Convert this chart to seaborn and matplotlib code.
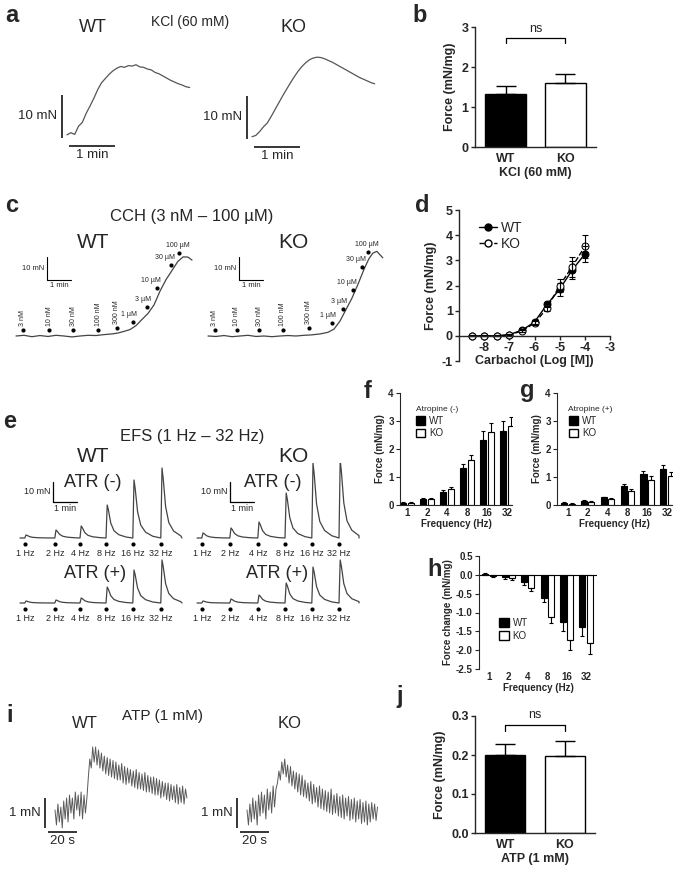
import numpy as np
import pandas as pd
import matplotlib
matplotlib.use('Agg')
import matplotlib.pyplot as plt
from matplotlib.patches import Patch
from matplotlib.lines import Line2D
import seaborn as sns

sns.set_style('ticks')
plt.rcParams['font.family'] = ['Liberation Sans', 'DejaVu Sans']
plt.rcParams['axes.unicode_minus'] = False

W, H = 675, 876

# ---------------- data ----------------
genotypes = ['WT', 'KO']
kcl_force = [1.33, 1.59]
kcl_sem = [0.20, 0.23]
atp_force = [0.200, 0.197]
atp_sem = [0.028, 0.040]

# KCl traces (time s every 5 s, force mN)
kcl_wt_trace = [0.5, 1.0, 0.6, 2.5, 3.4, 5.5, 7.2, 9.0, 11.0, 12.6, 13.6, 14.6, 15.4, 16.0, 16.4, 16.2, 16.6,
                16.5, 16.8, 16.3, 16.2, 15.8, 15.6, 15.0, 14.7, 14.2, 13.7, 13.2, 12.8, 12.4, 12.1, 11.7, 11.5]
kcl_ko_trace = [0.3, 0.6, 1.5, 2.6, 3.5, 5.0, 6.6, 8.2, 9.8, 11.3, 12.8, 14.2, 15.5, 16.6, 17.5, 18.2, 18.6,
                18.8, 18.7, 18.4, 18.0, 17.6, 17.1, 16.6, 16.1, 15.6, 15.1, 14.6, 14.1, 13.7, 13.3, 12.9, 12.6]

# carbachol cumulative traces
cch_doses = ['3 nM', '10 nM', '30 nM', '100 nM', '300 nM', '1 µM', '3 µM', '10 µM', '30 µM', '100 µM']
cch_wt_t = [0, 20, 40, 60, 80, 100, 120, 140, 160, 180, 200, 220, 240, 255, 270, 285, 300, 315, 330, 345,
            360, 375, 390, 405, 418, 430, 440]
cch_wt_f = [0, 0.3, -0.3, 0.2, -0.2, 0.3, 0, -0.4, 0, 0.3, 0.2, 0.6, 0.9, 1.3, 2.0, 2.8, 4.5, 7.2, 9.8, 13.5,
            19.5, 24.5, 28.5, 32.5, 34.4, 34.3, 33.0]
cch_wt_stim = [17, 83, 143, 205, 252, 292, 327, 352, 387, 407]
cch_wt_dot = [2.6, 2.6, 2.6, 2.6, 3.5, 6.1, 12.6, 20.9, 30.9, 36.1]
cch_ko_t = [0, 20, 40, 60, 80, 100, 120, 140, 160, 180, 200, 220, 240, 260, 280, 300, 315, 330, 345, 360,
            375, 390, 402, 412, 422, 437]
cch_ko_f = [0, -0.2, 0.2, -0.3, 0, 0.3, -0.2, 0, -0.3, 0, 0.2, 0, 0.3, 0.5, 0.9, 1.6, 3.0, 6.5, 11.5, 16.5,
            22.5, 29.0, 33.5, 36.0, 36.8, 34.0]
cch_ko_stim = [17, 72, 128, 187, 252, 310, 337, 362, 385, 400]
cch_ko_dot = [2.6, 2.6, 2.6, 2.6, 3.5, 5.7, 11.7, 20.0, 30.0, 36.5]

# concentration-response
cch_log = [-8.5, -8, -7.5, -7, -6.5, -6, -5.5, -5, -4.5, -4]
cch_wt = [0, 0, 0, 0.05, 0.22, 0.55, 1.25, 1.85, 2.62, 3.25]
cch_wt_sem = [0.02, 0.02, 0.02, 0.03, 0.05, 0.08, 0.1, 0.25, 0.35, 0.3]
cch_ko = [0, 0, 0, 0.03, 0.2, 0.5, 1.1, 2.0, 2.75, 3.55]
cch_ko_sem = [0.02, 0.02, 0.02, 0.03, 0.05, 0.08, 0.1, 0.25, 0.4, 0.45]

# EFS traces: stimulus times (s) and peak amplitudes (mN)
freq_labels = ['1 Hz', '2 Hz', '4 Hz', '8 Hz', '16 Hz', '32 Hz']
efs_stim_wt = [12, 87, 150, 215, 282, 352]
efs_stim_ko = [12, 82, 152, 220, 287, 355]
efs_wt_atr_neg = [1.5, 4, 6, 16.5, 29, 35]
efs_wt_atr_pos = [1, 1.5, 2.5, 8, 16.5, 21.5]
efs_ko_atr_neg = [2.5, 5, 8, 22.5, 37.5, 39]
efs_ko_atr_pos = [1, 2, 4, 10, 18, 21.5]
spike_t = [0, 3, 6, 12, 20, 32, 50]
spike_shape = [0, 1, 0.85, 0.45, 0.22, 0.1, 0.03]

# EFS bar data
freqs = ['1', '2', '4', '8', '16', '32']
f_wt = [0.08, 0.22, 0.47, 1.32, 2.33, 2.65]
f_wt_sem = [0.02, 0.02, 0.05, 0.15, 0.3, 0.35]
f_ko = [0.08, 0.22, 0.56, 1.62, 2.62, 2.83]
f_ko_sem = [0.02, 0.03, 0.07, 0.17, 0.3, 0.3]
g_wt = [0.08, 0.15, 0.27, 0.68, 1.10, 1.27]
g_wt_sem = [0.02, 0.02, 0.03, 0.07, 0.12, 0.17]
g_ko = [0.05, 0.12, 0.22, 0.50, 0.88, 1.02]
g_ko_sem = [0.02, 0.02, 0.02, 0.07, 0.17, 0.17]
h_wt = [0.02, -0.05, -0.20, -0.62, -1.25, -1.38]
h_wt_sem = [0.02, 0.05, 0.07, 0.10, 0.25, 0.25]
h_ko = [-0.04, -0.08, -0.35, -1.12, -1.72, -1.80]
h_ko_sem = [0.03, 0.05, 0.08, 0.17, 0.28, 0.30]

# ATP traces (1 s samples, mN)
atp_wt_trace = [0.1, -0.4, 0.3, -0.3, 0.2, -0.5, 0.4, -0.2, 0.5, -0.3, 0.6, 0.0, 0.5, -0.2, 0.7, 0.1, 0.6,
                -0.1, 0.7, -0.2, 0.6, 0.0, 0.5,
                1.2, 1.8, 1.5, 2.2, 1.7,
                2.2, 1.6, 2.1, 1.5, 2.0, 1.4, 1.9, 1.3, 1.85, 1.25, 1.8, 1.2, 1.75, 1.15, 1.7, 1.1, 1.6, 1.1,
                1.65, 1.0, 1.55, 0.95, 1.5, 1.0, 1.45, 0.9, 1.4, 0.85, 1.45, 0.8, 1.35, 0.8, 1.3, 0.75, 1.35,
                0.7, 1.25, 0.7, 1.2, 0.65, 1.2, 0.6, 1.15, 0.6, 1.1, 0.5, 1.05, 0.55, 1.0, 0.45, 1.0, 0.4,
                0.95, 0.45, 0.9, 0.35, 0.95, 0.3, 0.85, 0.35, 0.9, 0.3, 0.8, 0.5]
atp_ko_trace = [0.1, -0.4, 0.3, -0.3, 0.5, -0.2, 0.4, -0.4, 0.6, -0.1, 0.7, 0.0, 0.6, -0.2, 0.8, 0.1, 0.7,
                0.0, 0.9, 0.2, 0.8,
                1.0, 1.4, 1.1, 1.7, 1.3, 1.8, 1.2, 1.6,
                1.0, 1.55, 0.9, 1.4, 0.8, 1.35, 0.7, 1.3, 0.6, 1.25, 0.55, 1.1, 0.5, 1.0, 0.4, 1.05, 0.3,
                0.95, 0.35, 0.85, 0.2, 0.9, 0.15, 0.8, 0.1, 0.75, 0.05, 0.7, 0.0, 0.8, -0.05, 0.6, 0.0,
                0.65, -0.1, 0.55, -0.15, 0.6, -0.2, 0.5, -0.1, 0.55, -0.25, 0.45, -0.2, 0.5, -0.3, 0.4,
                -0.2, 0.45, -0.35, 0.35, -0.3, 0.4, -0.4, 0.3, -0.3, 0.35, -0.2, 0.3, -0.25, 0.2]


fig = plt.figure(figsize=(W / 100, H / 100), dpi=100)


def box(x0, y0, x1, y1):
    return [x0 / W, 1 - y1 / H, (x1 - x0) / W, (y1 - y0) / H]


def ftext(x, y, s, size, weight='normal', **kw):
    fig.text(x / W, 1 - y / H, s, fontsize=size, fontweight=weight, ha=kw.pop('ha', 'center'),
             va=kw.pop('va', 'center'), **kw)


def trace_ax(x0, y0, x1, y1, origin, px_x, px_y):
    # axes over a pixel box; data (0, 0) sits at `origin`, scales in px per unit
    ax = fig.add_axes(box(x0, y0, x1, y1))
    ax.set_xlim((x0 - origin[0]) / px_x, (x1 - origin[0]) / px_x)
    ax.set_ylim((origin[1] - y1) / px_y, (origin[1] - y0) / px_y)
    ax.set_axis_off()
    return ax


def efs_trace(stims, amps, end_t):
    t, f = [0], [0]
    for s, a in zip(stims, amps):
        for dt, k in zip(spike_t, spike_shape):
            t.append(s + dt)
            f.append(a * k)
    t.append(end_t)
    f.append(0)
    return t, f


def style_axis(ax, size, lw):
    sns.despine(ax=ax)
    for sp in ax.spines.values():
        sp.set_linewidth(lw)
    ax.tick_params(width=lw, length=3, labelsize=size, pad=1.5)
    for lab in ax.get_xticklabels() + ax.get_yticklabels():
        lab.set_fontweight('bold')


def two_bars(ax, vals, sems, ylim, yticks, xlabel, bracket, fmt):
    sns.barplot(x=genotypes, y=vals, hue=genotypes, palette=['black', 'white'], edgecolor='black',
                linewidth=1, width=0.68, legend=False, errorbar=None, ax=ax)
    ax.errorbar([0, 1], vals, yerr=[[0, 0], sems], fmt='none', ecolor='black', elinewidth=1,
                capsize=7, capthick=1, zorder=3)
    ax.set_xlim(-0.51, 1.51)
    ax.set_ylim(*ylim)
    ax.set_yticks(yticks)
    ax.set_yticklabels([fmt % v for v in yticks])
    ax.set_ylabel('Force (mN/mg)', fontsize=9, fontweight='bold', labelpad=4)
    ax.set_xlabel(xlabel, fontsize=9, fontweight='bold', labelpad=2)
    style_axis(ax, 9, 1)
    ax.tick_params(axis='x', length=0, pad=4)
    ax.plot([0, 0, 1, 1], [bracket[0], bracket[1], bracket[1], bracket[0]], color='black', lw=0.9)
    ax.text(0.5, bracket[1] + (ylim[1] - ylim[0]) * 0.03, 'ns', ha='center', va='bottom', fontsize=9)


def grouped_bars(ax, wt, ko, wt_sem, ko_sem, xlim, ylim, yticks, ylabel, fmt='%g'):
    df = pd.DataFrame({'freq': freqs * 2, 'geno': ['WT'] * 6 + ['KO'] * 6, 'force': wt + ko})
    sns.barplot(data=df, x='freq', y='force', hue='geno', palette={'WT': 'black', 'KO': 'white'},
                edgecolor='black', linewidth=0.8, width=0.75, gap=0.18, errorbar=None, legend=False, ax=ax)
    bars = sorted(ax.patches, key=lambda p: p.get_x())
    sems = [s for pair in zip(wt_sem, ko_sem) for s in pair]
    for bar, s in zip(bars, sems):
        cx = bar.get_x() + bar.get_width() / 2
        v = bar.get_height()
        yerr = [[0], [s]] if v >= 0 else [[s], [0]]
        ax.errorbar([cx], [v], yerr=yerr, fmt='none', ecolor='black', elinewidth=0.8,
                    capsize=1.6, capthick=0.8, zorder=3)
    ax.set_xlim(*xlim)
    ax.set_ylim(*ylim)
    ax.set_yticks(yticks)
    ax.set_yticklabels([fmt % v for v in yticks])
    ax.set_ylabel(ylabel, fontsize=7, fontweight='bold', labelpad=2)
    ax.set_xlabel('Frequency (Hz)', fontsize=7, fontweight='bold', labelpad=1)
    style_axis(ax, 7, 0.8)
    ax.tick_params(axis='x', length=0, pad=2)


def geno_legend(ax, anchor, title=None):
    handles = [Patch(facecolor='black', edgecolor='black', label='WT'),
               Patch(facecolor='white', edgecolor='black', label='KO')]
    ax.legend(handles=handles, title=title, loc='upper left', bbox_to_anchor=anchor, frameon=False,
              fontsize=7, title_fontsize=6, alignment='left', handlelength=1.0, handleheight=1.0,
              handletextpad=0.4, labelspacing=0.25, borderaxespad=0, borderpad=0)


# ---------------- panel letters ----------------
for s, x, y in [('a', 12, 15), ('b', 420, 15), ('c', 12, 205), ('d', 422, 205), ('e', 10, 422),
                ('f', 368, 392), ('g', 527, 390), ('h', 435, 570), ('i', 10, 716), ('j', 400, 697)]:
    ftext(x, y, s, 17, 'bold')

# ---------------- a: KCl traces ----------------
ftext(93, 27, 'WT', 13)
ftext(190, 22, 'KCl (60 mM)', 10)
ftext(293, 27, 'KO', 13)
kcl_t = np.arange(len(kcl_wt_trace)) * 5
for origin, trace in [((67, 137), kcl_wt_trace), ((252, 138), kcl_ko_trace)]:
    ax = trace_ax(origin[0] - 40, 40, origin[0] + 130, 170, origin, 46 / 60, 4.3)
    ax.plot(kcl_t[:len(trace)], trace, color='#555555', lw=0.9)
    ax.plot([-7, -7], [-0.2, 9.8], color='black', lw=1.1, solid_capstyle='butt')
    ax.annotate('10 mN', (-7, 4.8), xytext=(-3, 0), textcoords='offset points', ha='right',
                va='center', fontsize=9.5)
    ax.plot([2.5, 62.5], [-2.1, -2.1], color='black', lw=1.1, solid_capstyle='butt')
    ax.annotate('1 min', (32.5, -2.1), xytext=(0, -2), textcoords='offset points', ha='center',
                va='top', fontsize=9.5)

# ---------------- b: KCl bars ----------------
ax_b = fig.add_axes(box(475, 27, 596, 147))
two_bars(ax_b, kcl_force, kcl_sem, (0, 3), [0, 1, 2, 3], 'KCl (60 mM)', (2.6, 2.72), '%d')

# ---------------- c: carbachol traces ----------------
ftext(192, 217, 'CCH (3 nM – 100 µM)', 12)
ftext(93, 242, 'WT', 15)
ftext(293, 242, 'KO', 15)
for origin, tt, ff, stims, dots in [((16, 336), cch_wt_t, cch_wt_f, cch_wt_stim, cch_wt_dot),
                                     ((208, 336), cch_ko_t, cch_ko_f, cch_ko_stim, cch_ko_dot)]:
    ax = trace_ax(origin[0] - 10, 250, origin[0] + 185, 345, origin, 0.4, 2.3)
    ax.plot(tt, ff, color='#444444', lw=0.9)
    ax.scatter(stims, dots, s=4, color='black', zorder=3)
    for k, (lab, st, d) in enumerate(zip(cch_doses, stims, dots)):
        if k < 5:
            ax.annotate(lab, (st, d), xytext=(0, 3), textcoords='offset points', rotation=90,
                        ha='center', va='bottom', fontsize=5)
        elif k < 9:
            ax.annotate(lab, (st, d), xytext=(3, 3), textcoords='offset points', ha='right',
                        va='bottom', fontsize=5)
        else:
            ax.annotate(lab, (st, d), xytext=(-1, 3), textcoords='offset points', ha='center',
                        va='bottom', fontsize=5)
    ax.plot([77.5, 77.5, 137.5], [34.3, 24.3, 24.3], color='black', lw=0.8)
    ax.annotate('10 mN', (77.5, 29.3), xytext=(-2, 0), textcoords='offset points', ha='right',
                va='center', fontsize=5.5)
    ax.annotate('1 min', (107.5, 24.3), xytext=(0, -1.5), textcoords='offset points', ha='center',
                va='top', fontsize=5.5)

# ---------------- d: concentration response ----------------
ax_d = fig.add_axes(box(459, 210, 610, 361))
sns.lineplot(x=cch_log, y=cch_wt, ax=ax_d, color='black', lw=1, marker='o', markersize=5,
             markerfacecolor='black', markeredgecolor='black')
sns.lineplot(x=cch_log, y=cch_ko, ax=ax_d, color='black', lw=1, linestyle='--', marker='o',
             markersize=5, markerfacecolor='white', markeredgecolor='black')
ax_d.errorbar(cch_log, cch_wt, yerr=cch_wt_sem, fmt='none', ecolor='black', elinewidth=0.8,
              capsize=2.2, capthick=0.8)
ax_d.errorbar(cch_log, cch_ko, yerr=cch_ko_sem, fmt='none', ecolor='black', elinewidth=0.8,
              capsize=2.2, capthick=0.8)
ax_d.set_xlim(-9, -3)
ax_d.set_ylim(-1, 5)
ax_d.set_xticks([-8, -7, -6, -5, -4, -3])
ax_d.set_yticks([-1, 0, 1, 2, 3, 4, 5])
ax_d.spines['bottom'].set_position(('data', 0))
ax_d.set_ylabel('Force (mN/mg)', fontsize=9, fontweight='bold', labelpad=3)
ax_d.set_xlabel('Carbachol (Log [M])', fontsize=9, fontweight='bold', labelpad=1)
style_axis(ax_d, 9, 1)
ax_d.legend(handles=[Line2D([0], [0], color='black', lw=1, marker='o', markersize=5, mfc='black', label='WT'),
                     Line2D([0], [0], color='black', lw=1, ls='--', marker='o', markersize=5, mfc='white',
                            label='KO')],
            loc='upper left', bbox_to_anchor=(0.13, 0.93), frameon=False, fontsize=10,
            handlelength=1.3, handletextpad=0.3, labelspacing=0.2, borderaxespad=0, borderpad=0)

# ---------------- e: EFS traces ----------------
ftext(192, 437, 'EFS (1 Hz – 32 Hz)', 12)
ftext(93, 457, 'WT', 15)
ftext(293, 457, 'KO', 15)
ftext(93, 482, 'ATR (-)', 13)
ftext(273, 482, 'ATR (-)', 13)
ftext(95, 573, 'ATR (+)', 13)
ftext(277, 573, 'ATR (+)', 13)
for origin, stims, amps, bar in [((20, 538), efs_stim_wt, efs_wt_atr_neg, True),
                                 ((20, 603), efs_stim_wt, efs_wt_atr_pos, False),
                                 ((197, 538), efs_stim_ko, efs_ko_atr_neg, True),
                                 ((197, 603), efs_stim_ko, efs_ko_atr_pos, False)]:
    ax = trace_ax(origin[0] - 10, origin[1] - 75, origin[0] + 170, origin[1] + 20, origin, 0.4, 2.0)
    t, f = efs_trace(stims, amps, 405)
    ax.plot(t, f, color='#444444', lw=0.9)
    ax.scatter(stims, [-3.2] * len(stims), s=4, color='black')
    for st, lab in zip(stims, freq_labels):
        ax.text(st, -7.7, lab, ha='center', va='center', fontsize=6.5)
    if bar:
        ax.plot([82.5, 82.5, 142.5], [28, 18, 18], color='black', lw=0.9)
        ax.annotate('10 mN', (82.5, 23), xytext=(-2, 0), textcoords='offset points', ha='right',
                    va='center', fontsize=6.5)
        ax.annotate('1 min', (112.5, 18), xytext=(0, -1.5), textcoords='offset points', ha='center',
                    va='top', fontsize=6.5)

# ---------------- f, g, h: EFS bars ----------------
ax_f = fig.add_axes(box(400, 393, 512, 505))
grouped_bars(ax_f, f_wt, f_ko, f_wt_sem, f_ko_sem, (-0.35, 5.25), (0, 4), [0, 1, 2, 3, 4], 'Force (mN/mg)')
geno_legend(ax_f, (0.14, 0.88), 'Atropine (-)')

ax_g = fig.add_axes(box(557, 393, 672, 505))
grouped_bars(ax_g, g_wt, g_ko, g_wt_sem, g_ko_sem, (-0.55, 5.25), (0, 4), [0, 1, 2, 3, 4], 'Force (mN/mg)')
geno_legend(ax_g, (0.1, 0.88), 'Atropine (+)')

ax_h = fig.add_axes(box(479, 556, 597, 669))
grouped_bars(ax_h, h_wt, h_ko, h_wt_sem, h_ko_sem, (-0.52, 5.57), (-2.5, 0.5),
             [-2.5, -2.0, -1.5, -1.0, -0.5, 0.0, 0.5], 'Force change (mN/mg)', '%.1f')
sns.despine(ax=ax_h, bottom=True)
ax_h.axhline(0, color='black', lw=0.8)
geno_legend(ax_h, (0.17, 0.45))

# ---------------- i: ATP traces ----------------
ftext(85, 724, 'WT', 12)
ftext(163, 716, 'ATP (1 mM)', 11)
ftext(290, 724, 'KO', 12)
for origin, trace in [((55, 813), atp_wt_trace), ((247, 813), atp_ko_trace)]:
    ax = trace_ax(origin[0] - 40, 740, origin[0] + 140, 850, origin, 29 / 20, 30)
    ax.plot(np.arange(len(trace)), trace, color='#5a5a5a', lw=0.7)
    ax.plot([-7, -7], [-0.5, 0.5], color='black', lw=1.1, solid_capstyle='butt')
    ax.annotate('1 mN', (-7, 0), xytext=(-3, 0), textcoords='offset points', ha='right',
                va='center', fontsize=9.5)
    ax.plot([-4.5, 15.5], [-0.63, -0.63], color='black', lw=1.1, solid_capstyle='butt')
    ax.annotate('20 s', (5.5, -0.63), xytext=(0, -2), textcoords='offset points', ha='center',
                va='top', fontsize=9.5)

# ---------------- j: ATP bars ----------------
ax_j = fig.add_axes(box(475, 716, 595, 833))
two_bars(ax_j, atp_force, atp_sem, (0, 0.3), [0.0, 0.1, 0.2, 0.3], 'ATP (1 mM)', (0.262, 0.277), '%.1f')

fig.savefig('out.png', dpi=100, facecolor='white')
